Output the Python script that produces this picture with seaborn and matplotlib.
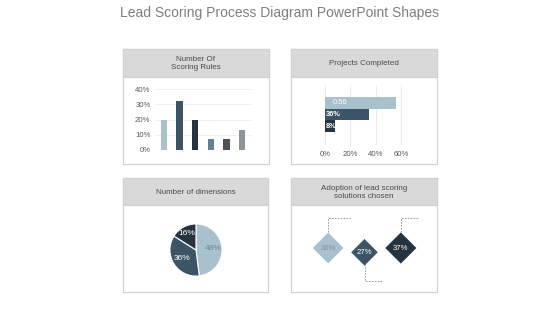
import matplotlib
matplotlib.use("Agg")
import matplotlib.pyplot as plt
import seaborn as sns
import pandas as pd
import numpy as np
from matplotlib.patches import Rectangle

sns.set_theme(style="white")
plt.rcParams['font.family'] = ['Liberation Sans', 'DejaVu Sans']

# ---------------- data ----------------
title = "Lead Scoring Process Diagram PowerPoint Shapes"
panel_titles = ["Number Of\nScoring Rules", "Projects Completed",
                "Number of dimensions", "Adoption of lead scoring\nsolutions chosen"]

rules_cats = ["A", "B", "C", "D", "E", "F"]
rules_vals = [20, 32, 20, 7, 7, 13]
rules_ticks = [0, 10, 20, 30, 40]

proj_cats = ["P1", "P2", "P3"]
proj_vals = [56, 35, 8]
proj_labels = ["0.56", "36%", "8%"]
proj_ticks = [0, 20, 40, 60]

dim_vals = [48, 36, 16]
dim_labels = ["48%", "36%", "16%"]

adopt_cats = ["S1", "S2", "S3"]
adopt_vals = [36, 27, 37]
adopt_labels = ["36%", "27%", "37%"]

# ---------------- styling ----------------
LIGHT = "#a9c1cd"
SLATE = "#3b5566"
DARK = "#26343f"
rules_colors = [LIGHT, SLATE, DARK, "#5f8299", "#4b5359", "#8a959c"]
W, H = 560, 315
TICK_C = "#595959"

fig = plt.figure(figsize=(W / 100, H / 100), dpi=100)
fig.patch.set_facecolor("white")


def px_axes(x0, y0, x1, y1, **kw):
    """axes from pixel box (top-left origin)"""
    return fig.add_axes([x0 / W, 1 - y1 / H, (x1 - x0) / W, (y1 - y0) / H], **kw)


def panel(x0, y0, x1, y1, head_h, text):
    ax = px_axes(x0, y0, x1, y1)
    ax.set_xlim(0, x1 - x0)
    ax.set_ylim(y1 - y0, 0)
    ax.axis("off")
    ax.add_patch(Rectangle((0, 0), x1 - x0, y1 - y0, facecolor="white",
                           edgecolor="#d2d2d2", lw=0.9, clip_on=False))
    ax.add_patch(Rectangle((0, 0), x1 - x0, head_h, facecolor="#d9d9d9",
                           edgecolor="#d2d2d2", lw=0.9, clip_on=False))
    ax.text((x1 - x0) / 2, head_h / 2 + 0.5, text, ha="center", va="center",
            fontsize=5.8, color="#4a4a4a", linespacing=1.2)
    ax.set_zorder(0)
    return ax


fig.text(0.5, 1 - 13 / H, title, ha="center", va="center", fontsize=10,
         color="#7f7f7f")

panel(123, 49, 269, 164, 28, panel_titles[0])
panel(291, 49, 437, 164, 28, panel_titles[1])
panel(123, 178, 268, 292, 27, panel_titles[2])
panel(291, 178, 437, 292, 27, panel_titles[3])

# ---------------- panel 1: vertical bars ----------------
sp = 15.6
ax1 = px_axes(164 - 0.6 * sp, 150 - 42 * 1.525, 164 + 5.6 * sp, 150)
df1 = pd.DataFrame({"cat": rules_cats, "val": rules_vals})
sns.barplot(data=df1, x="cat", y="val", hue="cat", palette=rules_colors,
            width=0.4, dodge=False, legend=False, ax=ax1, zorder=3,
            saturation=1, linewidth=0)
for p in ax1.patches:
    w = p.get_width()
    p.set_x(p.get_x() + w / 2 - 0.2)
    p.set_width(0.4)
ax1.set_xlim(-0.6, 5.6)
ax1.set_ylim(0, 42)
ax1.set_yticks(rules_ticks)
ax1.set_yticklabels([f"{t}%" for t in rules_ticks], fontsize=5.6, color=TICK_C)
ax1.yaxis.grid(True, color="#ececec", lw=0.6)
ax1.set_xticks([])
ax1.set_xlabel("")
ax1.set_ylabel("")
ax1.tick_params(axis="y", length=0, pad=3)
for s in ax1.spines.values():
    s.set_visible(False)
ax1.patch.set_alpha(0)

# ---------------- panel 2: horizontal bars ----------------
ax2 = px_axes(325, 85, 325 + 62 * 1.267, 145)
df2 = pd.DataFrame({"cat": proj_cats, "val": proj_vals})
sns.barplot(data=df2, y="cat", x="val", hue="cat", palette=[LIGHT, SLATE, DARK],
            width=1.0, dodge=False, legend=False, ax=ax2, zorder=3,
            saturation=1, orient="h", linewidth=0)
ax2.set_xlim(0, 62)
ax2.set_ylim(3.6, -1.5)
ax2.set_xticks(proj_ticks)
ax2.set_xticklabels([f"{t}%" for t in proj_ticks], fontsize=5.6, color=TICK_C)
ax2.xaxis.grid(True, color="#e6e6e6", lw=0.6)
ax2.set_yticks([])
ax2.set_xlabel("")
ax2.set_ylabel("")
ax2.tick_params(axis="x", length=0, pad=4)
for s in ax2.spines.values():
    s.set_visible(False)
ax2.patch.set_alpha(0)
for i, lab in enumerate(proj_labels):
    xoff = 6 if i == 0 else 0.6
    ax2.text(xoff, i, lab, ha="left", va="center", fontsize=5.4,
             color="white", zorder=5, fontweight="bold" if i else "normal")

# ---------------- panel 3: pie ----------------
ax3 = px_axes(196 - 30, 250 - 30, 196 + 30, 250 + 30)
wedges, _ = ax3.pie(dim_vals, colors=[LIGHT, SLATE, DARK], startangle=90,
                    counterclock=False, radius=1,
                    wedgeprops=dict(edgecolor="white", linewidth=0.8))
ax3.set_xlim(-1.15, 1.15)
ax3.set_ylim(-1.15, 1.15)
ax3.set_aspect("equal")
ax3.axis("off")
label_r = [0.65, 0.62, 0.72]
label_c = ["#6f8794", "white", "white"]
start = 90.0
for v, lab, r, c in zip(dim_vals, dim_labels, label_r, label_c):
    mid = np.deg2rad(start - v * 3.6 / 2)
    ax3.text(r * np.cos(mid), r * np.sin(mid), lab, ha="center", va="center",
             fontsize=6, color=c)
    start -= v * 3.6

# ---------------- panel 4: diamonds ----------------
ax4 = px_axes(297, 205, 432, 291)
n = len(adopt_vals)
xs = np.arange(n)
ys = np.where(xs % 2 == 1, -0.1, 0.0)
sizes = [v * 6.8 for v in adopt_vals]
df4 = pd.DataFrame({"x": xs, "y": ys, "cat": adopt_cats})
sns.scatterplot(data=df4, x="x", y="y", hue="cat", palette=[LIGHT, SLATE, DARK],
                marker="D", s=sizes, legend=False, ax=ax4, linewidth=0, zorder=3)
ax4.set_xlim(-0.857, 2.857)          # 35 px per unit
ax4.set_ylim(-1.0, 1.0)              # 43 px per unit
ax4.axis("off")
lab_c = ["#7d919c", "white", "white"]
for xi, yi, lab, c in zip(xs, ys, adopt_labels, lab_c):
    ax4.text(xi, yi, lab, ha="center", va="center", fontsize=5.6, color=c,
             zorder=4)
ypx = 43.0
for xi, yi in zip(xs, ys):
    if xi % 2 == 0:
        y_top = yi + 13 / ypx
        y_end = yi + 30 / ypx
        ax4.plot([xi, xi, xi + (0.6 if xi == 0 else 0.5)], [y_top, y_end, y_end],
                 ls=(0, (2, 1.5)), color="#8c8c8c", lw=0.6, zorder=2)
    else:
        y_bot = yi - 12 / ypx
        y_end = yi - 29 / ypx
        ax4.plot([xi, xi, xi + 0.52], [y_bot, y_end, y_end],
                 ls=(0, (2, 1.5)), color="#8c8c8c", lw=0.6, zorder=2)

fig.savefig("out.png", dpi=100, facecolor="white")
